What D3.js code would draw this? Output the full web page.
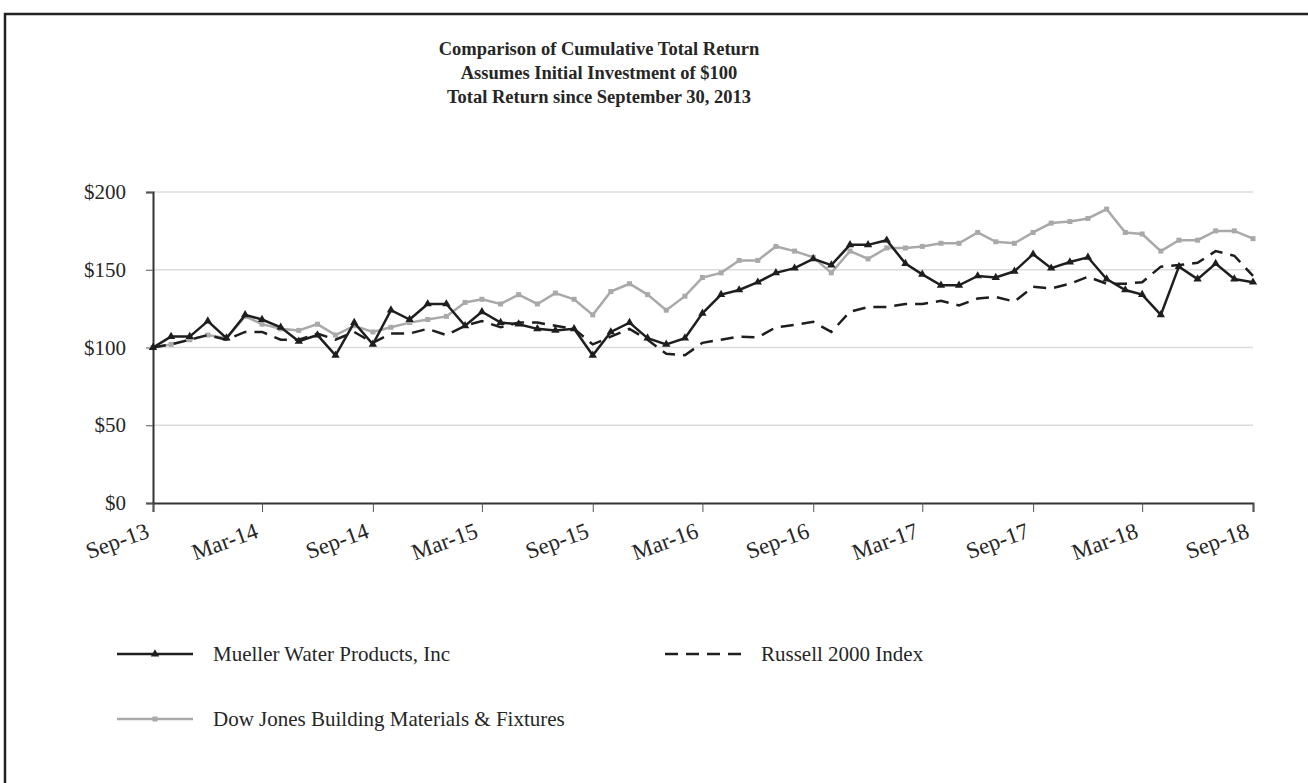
<!DOCTYPE html>
<html>
<head>
<meta charset="utf-8">
<script src="https://cdn.jsdelivr.net/npm/d3@7"></script>
<style>
	body { margin: 0; background: #fff; }
	svg text { font-family: "Liberation Serif", "Times New Roman", serif; fill: #262626; }
</style>
</head>
<body>
<svg id="svg" width="1308" height="783"></svg>
<script>
// monthly points, Sep-13 .. Sep-18
const months = d3.range(61).map(i => new Date(2013, 8 + i, 1))
const tickLabels = ['Sep-13', 'Mar-14', 'Sep-14', 'Mar-15', 'Sep-15', 'Mar-16', 'Sep-16', 'Mar-17', 'Sep-17', 'Mar-18', 'Sep-18']
const yTicks = [0, 50, 100, 150, 200]

const mueller = [100, 107, 107, 117, 106, 121, 118, 113, 104, 108, 95, 116, 102, 124, 118, 128, 128, 114, 123, 116,
	115, 112, 111, 112, 95, 110, 116, 106, 102, 106, 122, 134, 137, 142, 148, 151, 157, 153, 166, 166,
	169, 154, 147, 140, 140, 146, 145, 149, 160, 151, 155, 158, 144, 137, 134, 121, 152, 144, 154, 144, 142]
const russell = [100, 102, 105, 108, 105, 110, 110, 105, 105, 109, 105, 110, 103, 109, 109, 112, 108, 114, 117, 113,
	116, 116, 114, 112, 102, 107, 112, 105, 96, 95, 103, 105, 107, 106.5, 113, 114.5, 116.5, 110, 123, 126,
	126, 128, 128, 130, 127, 131.5, 132.5, 129.5, 139, 138, 141, 145.5, 141, 141, 142, 152, 153, 154.5, 162, 159, 146]
const dowJones = [100, 102, 105, 108, 106, 120, 115, 112, 111, 115, 108, 114, 110, 113, 116, 118, 120, 129, 131, 128,
	134, 128, 135, 131, 121, 136, 141, 134, 124, 133, 145, 148, 156, 156, 165, 162, 158, 148, 162, 157,
	164, 164, 165, 167, 167, 174, 168, 167, 174, 180, 181, 183, 189, 174, 173, 162, 169, 169, 175, 175, 170]

const seriesNames = ['Mueller Water Products, Inc', 'Russell 2000 Index', 'Dow Jones Building Materials & Fixtures']

const margin = {top: 192, left: 153},
	width = 1100,
	height = 311

const svg = d3.select('#svg')

// outer frame: only top and left edges are in view
svg.append('path')
	.attr('d', 'M5,783 V14 H1308')
	.attr('fill', 'none')
	.attr('stroke', '#222')
	.attr('stroke-width', 2.5)

const titles = ['Comparison of Cumulative Total Return', 'Assumes Initial Investment of $100', 'Total Return since September 30, 2013']
svg.selectAll('text.title')
	.data(titles).enter()
	.append('text')
	.attr('class', 'title')
	.attr('x', 599)
	.attr('y', (d, i) => 55 + i * 24)
	.attr('text-anchor', 'middle')
	.attr('font-weight', 'bold')
	.attr('font-size', 18.5)
	.text(d => d)

const g = svg.append('g')
	.attr('transform', `translate(${margin.left},${margin.top})`)

const x = d3.scaleTime().domain([months[0], months[60]]).range([0, width])
const y = d3.scaleLinear().domain([0, 200]).range([height, 0])

// gridlines
g.selectAll('line.grid')
	.data(yTicks.filter(d => d > 0)).enter()
	.append('line')
	.attr('x1', 0).attr('x2', width)
	.attr('y1', d => y(d)).attr('y2', d => y(d))
	.attr('stroke', '#dcdcdc')
	.attr('stroke-width', 1.5)

// y axis
const yAxis = g.append('g')
	.call(d3.axisLeft(y).tickValues(yTicks).tickSize(7).tickPadding(20).tickFormat(d => '$' + d))
yAxis.select('.domain').attr('stroke', '#333').attr('stroke-width', 2)
yAxis.selectAll('.tick line').attr('stroke', '#555')
yAxis.selectAll('text')
	.attr('font-size', 21)
	.attr('font-family', '"Liberation Serif", serif')
	.attr('fill', '#262626')

// x axis
const xTickVals = tickLabels.map((d, i) => months[i * 6])
const xAxis = g.append('g')
	.attr('transform', `translate(0,${height})`)
	.call(d3.axisBottom(x).tickValues(xTickVals).tickSize(9).tickFormat((d, i) => tickLabels[i]))
xAxis.select('.domain').attr('stroke', '#333').attr('stroke-width', 2)
xAxis.selectAll('.tick line').attr('stroke', '#555')
xAxis.selectAll('text')
	.attr('font-size', 23)
	.attr('font-family', '"Liberation Serif", serif')
	.attr('fill', '#262626')
	.attr('text-anchor', 'end')
	.attr('dy', 0)
	.attr('y', 0)
	.attr('transform', 'translate(-3,34) rotate(-20)')

const line = d3.line()
	.x((d, i) => x(months[i]))
	.y(d => y(d))

// Dow Jones (grey, squares)
g.append('path')
	.datum(dowJones)
	.attr('d', line)
	.attr('fill', 'none')
	.attr('stroke', '#a9a9a9')
	.attr('stroke-width', 2.5)
g.selectAll('rect.dj')
	.data(dowJones).enter()
	.append('rect')
	.attr('class', 'dj')
	.attr('x', (d, i) => x(months[i]) - 2.5)
	.attr('y', d => y(d) - 2.5)
	.attr('width', 5).attr('height', 5)
	.attr('fill', '#a9a9a9')

// Russell (dashed)
g.append('path')
	.datum(russell)
	.attr('d', line)
	.attr('fill', 'none')
	.attr('stroke', '#1e1e1e')
	.attr('stroke-width', 2.5)
	.attr('stroke-dasharray', '13,8')

// Mueller (black, triangles)
g.append('path')
	.datum(mueller)
	.attr('d', line)
	.attr('fill', 'none')
	.attr('stroke', '#1e1e1e')
	.attr('stroke-width', 2.5)
const tri = d3.symbol().type(d3.symbolTriangle).size(30)
g.selectAll('path.tri')
	.data(mueller).enter()
	.append('path')
	.attr('class', 'tri')
	.attr('d', tri)
	.attr('transform', (d, i) => `translate(${x(months[i])},${y(d)})`)
	.attr('fill', '#1e1e1e')

// legend
const legend = [
	{name: seriesNames[0], x: 117, y: 654, color: '#1e1e1e', dash: null, marker: 'tri'},
	{name: seriesNames[1], x: 665, y: 654, color: '#1e1e1e', dash: '13,8', marker: null},
	{name: seriesNames[2], x: 117, y: 719, color: '#a9a9a9', dash: null, marker: 'sq'}
]
const lg = svg.selectAll('g.legend')
	.data(legend).enter()
	.append('g')
	.attr('class', 'legend')
	.attr('transform', d => `translate(${d.x},${d.y})`)
lg.append('line')
	.attr('x1', 0).attr('x2', 76)
	.attr('stroke', d => d.color)
	.attr('stroke-width', 2.5)
	.attr('stroke-dasharray', d => d.dash)
lg.filter(d => d.marker === 'tri')
	.append('path')
	.attr('d', tri)
	.attr('transform', 'translate(38,0)')
	.attr('fill', d => d.color)
lg.filter(d => d.marker === 'sq')
	.append('rect')
	.attr('x', 35.5).attr('y', -2.5)
	.attr('width', 5).attr('height', 5)
	.attr('fill', d => d.color)
lg.append('text')
	.attr('x', 96)
	.attr('y', 7)
	.attr('font-size', 21)
	.text(d => d.name)
</script>
</body>
</html>
